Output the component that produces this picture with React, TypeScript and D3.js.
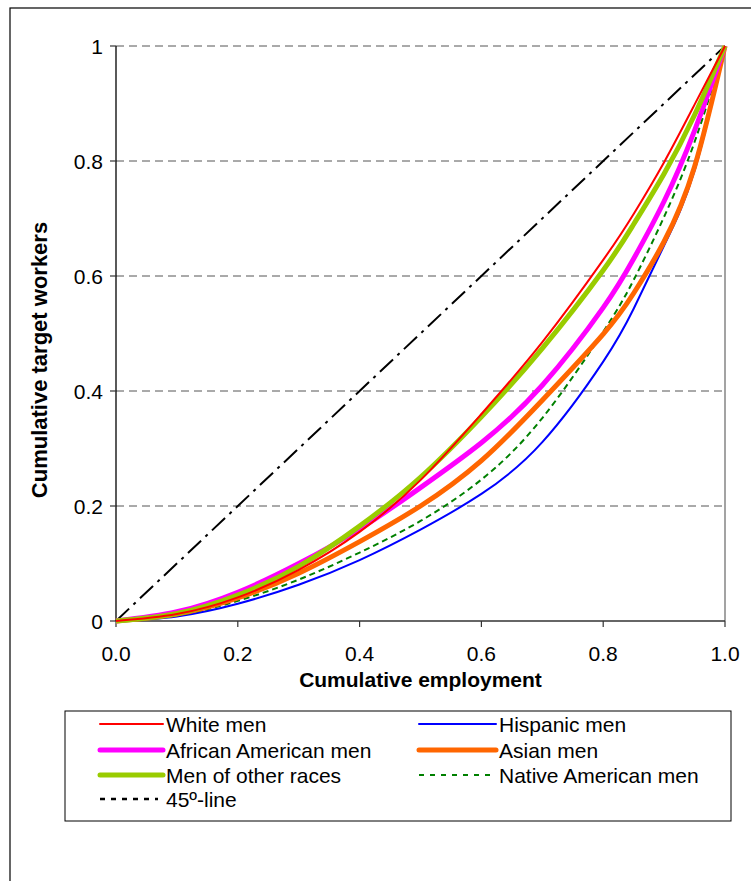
import * as d3 from 'd3';

// cumulative employment, shared by every group
const xGrid = [0, 0.1, 0.2, 0.3, 0.4, 0.5, 0.6, 0.7, 0.8, 0.85, 0.9, 0.95, 1];
// cumulative target workers per group
const whiteMen = [0, 0.012, 0.041, 0.089, 0.155, 0.245, 0.36, 0.485, 0.628, 0.708, 0.798, 0.898, 1];
const hispanicMen = [0, 0.008, 0.03, 0.063, 0.106, 0.159, 0.221, 0.311, 0.451, 0.543, 0.653, 0.783, 1];
const africanMen = [0, 0.016, 0.05, 0.1, 0.16, 0.232, 0.31, 0.41, 0.545, 0.63, 0.73, 0.853, 1];
const asianMen = [0, 0.012, 0.04, 0.083, 0.138, 0.2, 0.279, 0.384, 0.499, 0.57, 0.66, 0.79, 1];
const otherMen = [0, 0.013, 0.045, 0.095, 0.165, 0.25, 0.355, 0.474, 0.61, 0.69, 0.778, 0.88, 1];
const nativeMen = [0, 0.01, 0.035, 0.072, 0.119, 0.174, 0.246, 0.353, 0.503, 0.593, 0.703, 0.833, 1];
const diagonal = [0, 1];

const xTicks = [0, 0.2, 0.4, 0.6, 0.8, 1];
const yTicks = [0, 0.2, 0.4, 0.6, 0.8, 1];

const series = [
  { name: 'White men', values: whiteMen, color: '#FF0000', width: 2, dash: null },
  { name: 'Hispanic men', values: hispanicMen, color: '#0000FF', width: 2, dash: null },
  { name: 'African American men', values: africanMen, color: '#FF00FF', width: 5, dash: null },
  { name: 'Asian men', values: asianMen, color: '#FF6600', width: 5, dash: null },
  { name: 'Men of other races', values: otherMen, color: '#99CC00', width: 5, dash: null },
  { name: 'Native American men', values: nativeMen, color: '#008000', width: 2, dash: '6,4' },
];

const font = 'Arial, "Liberation Sans", sans-serif';

export default function App() {
  const W = 751, H = 881;
  const left = 116, right = 725, top = 46, bottom = 621;

  const x = d3.scaleLinear().domain([0, 1]).range([left, right]);
  const y = d3.scaleLinear().domain([0, 1]).range([bottom, top]);

  const line = d3.line<[number, number]>()
    .x(d => x(d[0]))
    .y(d => y(d[1]))
    .curve(d3.curveNatural);

  // thin lines first, thick ones on top
  const drawOrder = [1, 5, 3, 2, 4, 0];

  // legend layout
  const legendRows = [724, 750, 775, 799];
  const legendItems = [
    { s: series[0], col: 0, row: 0 },
    { s: series[1], col: 1, row: 0 },
    { s: series[2], col: 0, row: 1 },
    { s: series[3], col: 1, row: 1 },
    { s: series[4], col: 0, row: 2 },
    { s: series[5], col: 1, row: 2 },
  ];
  const cols = [{ x1: 100, x2: 163, tx: 166 }, { x1: 419, x2: 496, tx: 499 }];
  const fs = 21;

  return (
    <svg width={W} height={H} style={{ position: 'absolute', left: 0, top: 0 }} fontFamily={font}>
      <rect x={0} y={0} width={W} height={H} fill="#fff" />
      {/* outer frame */}
      <rect x={10} y={8} width={W + 20} height={H + 20} fill="none" stroke="#000" strokeWidth={1.2} />

      {/* gridlines */}
      {yTicks.filter(t => t > 0).map(t => (
        <line key={'g' + t} x1={left} x2={right} y1={y(t)} y2={y(t)}
          stroke="#555" strokeWidth={1} strokeDasharray="8,5" />
      ))}

      {/* axes */}
      <line x1={right} x2={right} y1={top} y2={bottom} stroke="#666" strokeWidth={1.2} />
      <line x1={left} x2={right} y1={bottom} y2={bottom} stroke="#333" strokeWidth={1.3} />
      <line x1={left} x2={left} y1={top} y2={bottom} stroke="#000" strokeWidth={1.3} />

      {yTicks.map(t => (
        <g key={'y' + t}>
          <line x1={left - 6} x2={left} y1={y(t)} y2={y(t)} stroke="#333" strokeWidth={1.2} />
          <text x={103} y={y(t)} dy="0.36em" textAnchor="end" fontSize={fs}>{d3.format('~g')(t)}</text>
        </g>
      ))}
      {xTicks.map(t => (
        <g key={'x' + t}>
          <line x1={x(t)} x2={x(t)} y1={bottom} y2={bottom + 6} stroke="#333" strokeWidth={1.2} />
          <text x={x(t)} y={661} textAnchor="middle" fontSize={fs}>{d3.format('.1f')(t)}</text>
        </g>
      ))}

      <text x={(left + right) / 2} y={687} textAnchor="middle" fontSize={fs} fontWeight="bold">Cumulative employment</text>
      <text transform={`translate(47,${360}) rotate(-90)`} textAnchor="middle" fontSize={22} fontWeight="bold">Cumulative target workers</text>

      {/* 45 degree line */}
      <path d={line(diagonal.map(v => [v, v]) as [number, number][]) || ''} fill="none"
        stroke="#000" strokeWidth={2} strokeDasharray="18,6,3,6" />

      {drawOrder.map(i => {
        const s = series[i];
        const pts = xGrid.map((v, j) => [v, s.values[j]] as [number, number]);
        return (
          <path key={s.name} d={line(pts) || ''} fill="none" stroke={s.color}
            strokeWidth={s.width} strokeDasharray={s.dash || undefined} strokeLinejoin="round" />
        );
      })}

      {/* legend */}
      <rect x={65} y={711} width={666} height={110} fill="#fff" stroke="#000" strokeWidth={1} />
      {legendItems.map(({ s, col, row }) => (
        <g key={'l' + s.name}>
          <line x1={cols[col].x1} x2={cols[col].x2} y1={legendRows[row]} y2={legendRows[row]}
            stroke={s.color} strokeWidth={s.width} strokeDasharray={s.dash ? '5,6' : undefined} strokeLinecap={s.dash ? 'butt' : 'round'} />
          <text x={cols[col].tx} y={legendRows[row]} dy="0.36em" fontSize={fs}>{s.name}</text>
        </g>
      ))}
      <line x1={100} x2={158} y1={legendRows[3]} y2={legendRows[3]} stroke="#000" strokeWidth={2.5} strokeDasharray="5,6" />
      <text x={cols[0].tx} y={legendRows[3]} dy="0.36em" fontSize={fs}>45º-line</text>
    </svg>
  );
}
